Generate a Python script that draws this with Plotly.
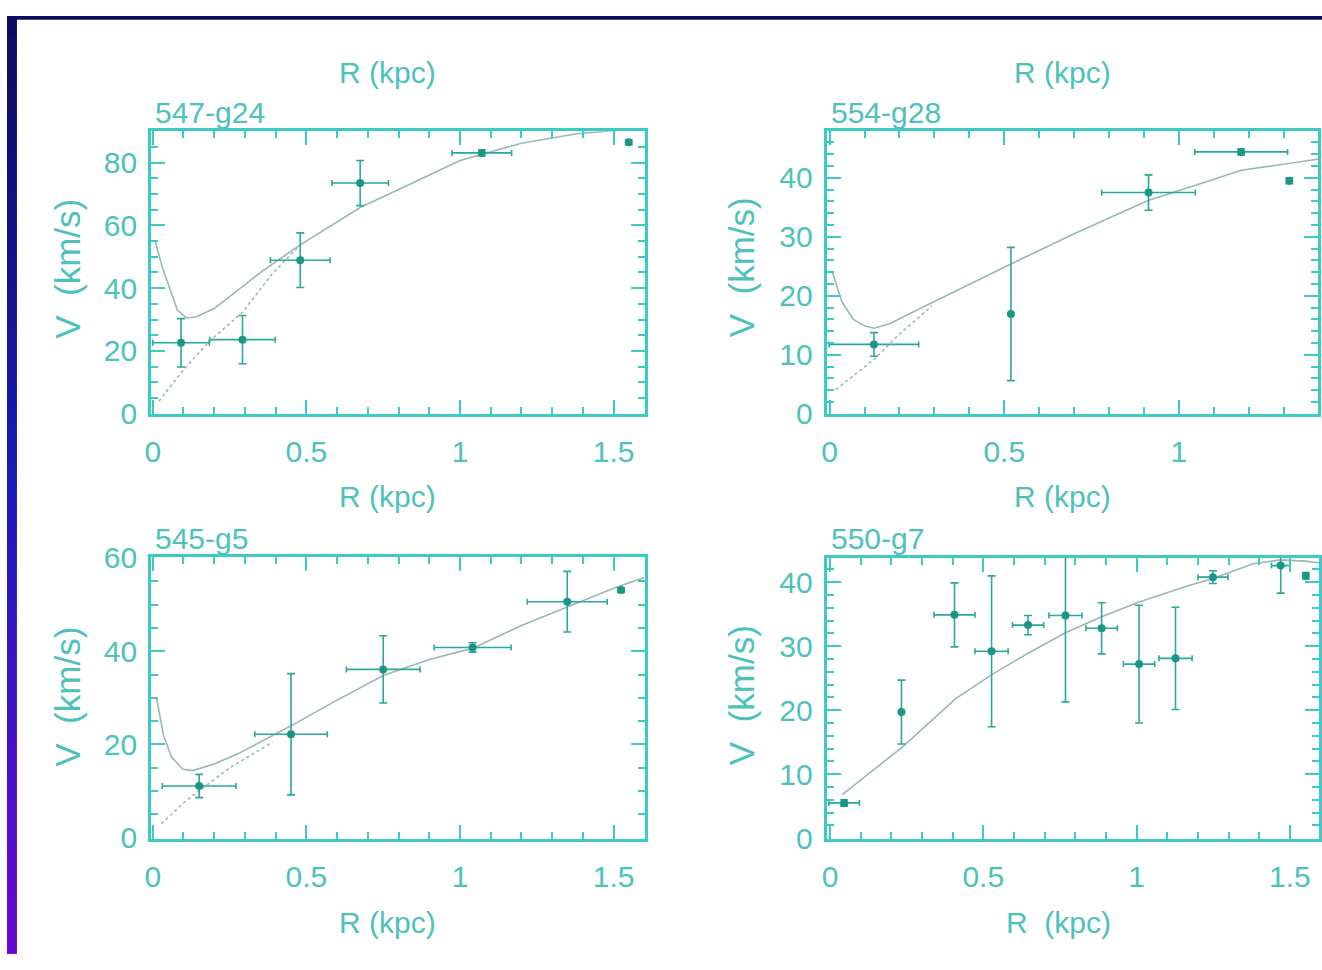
import plotly.graph_objects as go

# ---------------- data ----------------
# Panel 1: 547-g24
p1_r = [0.092, 0.292, 0.48, 0.675, 1.071, 1.549]
p1_v = [22.6, 23.6, 48.9, 73.5, 83.1, 86.5]
p1_rerr = [0.092, 0.107, 0.097, 0.092, 0.097, 0.0]
p1_verr = [7.7, 7.7, 8.7, 7.2, 1.0, 0.8]
p1_fit_r = [0.008, 0.03, 0.055, 0.08, 0.11, 0.14, 0.2, 0.3, 0.36, 0.48, 0.6, 0.675, 0.84, 1.0, 1.07, 1.2, 1.38, 1.6]
p1_fit_v = [55, 47, 40, 33, 30.5, 30.8, 33.5, 41, 45.7, 53.8, 61, 65.7, 73.3, 80.7, 82.6, 86.2, 89.2, 91]
p1_dot_r = [0.02, 0.1, 0.184, 0.292, 0.389, 0.48]
p1_dot_v = [4, 14, 23.1, 32.3, 44.6, 53.8]

# Panel 2: 554-g28
p2_r = [0.127, 0.519, 0.913, 1.178, 1.316]
p2_v = [11.75, 16.9, 37.5, 44.4, 39.5]
p2_rerr = [0.128, 0.0, 0.134, 0.133, 0.0]
p2_verr = [2.0, 11.3, 3.0, 0.5, 0.5]
p2_fit_r = [0.008, 0.035, 0.068, 0.1, 0.127, 0.17, 0.265, 0.4, 0.519, 0.7, 0.913, 1.05, 1.178, 1.3, 1.4]
p2_fit_v = [24, 19, 16, 14.9, 14.5, 15.2, 18, 22, 25.4, 30.5, 36.2, 38.8, 41.3, 42.3, 43.2]
p2_dot_r = [0.018, 0.127, 0.2, 0.293]
p2_dot_v = [4.1, 9.2, 13.5, 18.3]

# Panel 3: 545-g5
p3_r = [0.151, 0.45, 0.75, 1.041, 1.349, 1.524]
p3_v = [11.1, 22.2, 36.1, 40.8, 50.6, 53.1]
p3_rerr = [0.12, 0.118, 0.12, 0.125, 0.13, 0.0]
p3_verr = [2.5, 13.0, 7.2, 1.0, 6.5, 0.5]
p3_fit_r = [0.012, 0.035, 0.06, 0.098, 0.13, 0.2, 0.28, 0.45, 0.6, 0.75, 0.9, 1.04, 1.2, 1.35, 1.5, 1.6]
p3_fit_v = [30, 22, 17.4, 14.7, 14.4, 15.8, 18.1, 24, 29.5, 34.8, 38.2, 40.6, 45.5, 49.5, 53.5, 55.8]
p3_dot_r = [0.028, 0.1, 0.15, 0.25, 0.39]
p3_dot_v = [3, 7.5, 10, 15, 20.5]

# Panel 4: 550-g7
p4_r = [0.046, 0.233, 0.406, 0.527, 0.646, 0.768, 0.886, 1.008, 1.127, 1.249, 1.47, 1.552]
p4_v = [5.5, 19.7, 34.9, 29.2, 33.3, 34.8, 32.8, 27.2, 28.1, 40.8, 42.6, 41.0]
p4_rerr = [0.05, 0.0, 0.067, 0.054, 0.051, 0.054, 0.051, 0.051, 0.054, 0.049, 0.03, 0.0]
p4_verr = [0.5, 5.0, 5.0, 11.8, 1.5, 13.5, 4.0, 9.2, 8.0, 1.0, 4.3, 0.5]
p4_fit_r = [0.04, 0.235, 0.41, 0.529, 0.646, 0.768, 0.886, 1.008, 1.165, 1.249, 1.38, 1.47, 1.55, 1.6]
p4_fit_v = [6.8, 14.2, 21.8, 25.6, 28.9, 32.1, 34.6, 36.9, 39.4, 40.6, 42.9, 43.5, 43.3, 43.0]

panel_names = ["547-g24", "554-g28", "545-g5", "550-g7"]
x_title = "R (kpc)"
y_title = "V  (km/s)"

# ---------------- style ----------------
W, H = 1322, 970
FONT = "Liberation Sans"
AX = "#3ccbc3"
TXT = "#4cc2ba"
PT = "#1a9686"
ERR = "#2aa898"
CURVE = "#98b8b2"


def px(x):
    return x / W


def py(y):
    return 1 - y / H


fig = go.Figure()

panels = [
    dict(r=p1_r, v=p1_v, re=p1_rerr, ve=p1_verr, fr=p1_fit_r, fv=p1_fit_v, dr=p1_dot_r, dv=p1_dot_v,
         xd=(145, 641.7), yd=(119.3, 411.7), xr=[-0.005, 1.603], yr=[0, 90], ydt=20, ymin=5),
    dict(r=p2_r, v=p2_v, re=p2_rerr, ve=p2_verr, fr=p2_fit_r, fv=p2_fit_v, dr=p2_dot_r, dv=p2_dot_v,
         xd=(824, 1318.3), yd=(119.3, 411.7), xr=[-0.0085, 1.399], yr=[0, 47.9], ydt=10, ymin=2),
    dict(r=p3_r, v=p3_v, re=p3_rerr, ve=p3_verr, fr=p3_fit_r, fv=p3_fit_v, dr=p3_dot_r, dv=p3_dot_v,
         xd=(145, 641.7), yd=(560, 851.7), xr=[-0.005, 1.603], yr=[-0.2, 60.2], ydt=20, ymin=5),
    dict(r=p4_r, v=p4_v, re=p4_rerr, ve=p4_verr, fr=p4_fit_r, fv=p4_fit_v, dr=None, dv=None,
         xd=(824, 1319.3), yd=(560.7, 851.7), xr=[-0.011, 1.596], yr=[-0.1, 43.85], ydt=10, ymin=2),
]

layout_axes = {}
for i, p in enumerate(panels):
    n = "" if i == 0 else str(i + 1)
    xa, ya = "x" + n, "y" + n
    fig.add_trace(go.Scatter(x=p["fr"], y=p["fv"], mode="lines", xaxis=xa, yaxis=ya,
                             line=dict(color=CURVE, width=1.6), showlegend=False, hoverinfo="skip"))
    if p["dr"] is not None:
        fig.add_trace(go.Scatter(x=p["dr"], y=p["dv"], mode="lines", xaxis=xa, yaxis=ya,
                                 line=dict(color=CURVE, width=1.6, dash="dot"), showlegend=False,
                                 hoverinfo="skip"))
    fig.add_trace(go.Scatter(
        x=p["r"], y=p["v"], mode="markers", xaxis=xa, yaxis=ya, showlegend=False,
        marker=dict(color=PT, size=8),
        error_x=dict(type="data", array=p["re"], color=ERR, thickness=1.6, width=3),
        error_y=dict(type="data", array=p["ve"], color=ERR, thickness=1.6, width=4),
    ))

    common = dict(showline=True, linecolor=AX, linewidth=3, mirror="ticks", ticks="inside",
                  tickcolor=AX, tickwidth=2, showgrid=False, zeroline=False,
                  tickfont=dict(family=FONT, size=30, color=TXT))
    layout_axes["xaxis" + n] = dict(
        common, domain=[px(p["xd"][0]), px(p["xd"][1])], range=p["xr"], anchor=ya,
        tick0=0, dtick=0.5, ticklen=14, ticklabelstandoff=9,
        minor=dict(ticks="inside", dtick=0.1, tick0=0, ticklen=7, tickwidth=1.5, tickcolor=AX),
    )
    layout_axes["yaxis" + n] = dict(
        common, domain=[py(p["yd"][1]), py(p["yd"][0])], range=p["yr"], anchor=xa,
        tick0=0, dtick=p["ydt"], ticklen=14, ticklabelstandoff=5,
        minor=dict(ticks="inside", dtick=p["ymin"], tick0=0, ticklen=7, tickwidth=1.5, tickcolor=AX),
    )

fig.update_layout(**layout_axes)

# ---------------- text ----------------
ann = []
for (x, y, t) in [(383, 58, x_title), (1061, 58, x_title), (383, 497, x_title),
                  (1061, 497, x_title), (383, 938, x_title), (1057, 938, "R\u00a0\u00a0(kpc)")]:
    ann.append(dict(x=px(x), y=py(y), xref="paper", yref="paper", text=t, showarrow=False,
                    xanchor="center", yanchor="middle", font=dict(family=FONT, size=30, color=TXT)))
for (x, y, t) in [(147, 100, panel_names[0]), (826, 100, panel_names[1]),
                  (147, 541, panel_names[2]), (826, 541, panel_names[3])]:
    ann.append(dict(x=px(x), y=py(y), xref="paper", yref="paper", text=t, showarrow=False,
                    xanchor="left", yanchor="middle", font=dict(family=FONT, size=30, color=TXT)))
for (x, y) in [(60, 262), (738, 260), (60, 705), (738, 703)]:
    ann.append(dict(x=px(x), y=py(y), xref="paper", yref="paper", text=y_title.replace(" ", "\u00a0"),
                    showarrow=False, textangle=-90, xanchor="center", yanchor="middle",
                    font=dict(family=FONT, size=35, color=TXT)))

# ---------------- background frame ----------------
shapes = [dict(type="rect", xref="paper", yref="paper", x0=0, x1=1, y0=py(4), y1=1,
               fillcolor="#0b0c5e", line=dict(width=0), layer="below")]
top_c = (11, 12, 94)
mid_c = (26, 26, 184)
bot_c = (104, 10, 210)
NB = 48
for k in range(NB):
    t = (k + 0.5) / NB
    if t < 0.5:
        a, b, s = top_c, mid_c, t / 0.5
    else:
        a, b, s = mid_c, bot_c, (t - 0.5) / 0.5
    c = tuple(int(round(a[j] + (b[j] - a[j]) * s)) for j in range(3))
    shapes.append(dict(type="rect", xref="paper", yref="paper", x0=0, x1=px(10),
                       y0=1 - (k + 1) / NB - 0.001, y1=1 - k / NB,
                       fillcolor="rgb(%d,%d,%d)" % c, line=dict(width=0), layer="below"))

fig.update_layout(
    width=W, height=H, autosize=False,
    margin=dict(l=0, r=0, t=0, b=0),
    paper_bgcolor="white", plot_bgcolor="white",
    annotations=ann, shapes=shapes, showlegend=False,
)

fig.write_html(
    "out.html",
    config=dict(displayModeBar=False),
    post_script=(
        "document.documentElement.style.margin='0';document.body.style.margin='0';"
        "document.body.style.padding='0';document.body.style.overflow='hidden';"
    ),
)
